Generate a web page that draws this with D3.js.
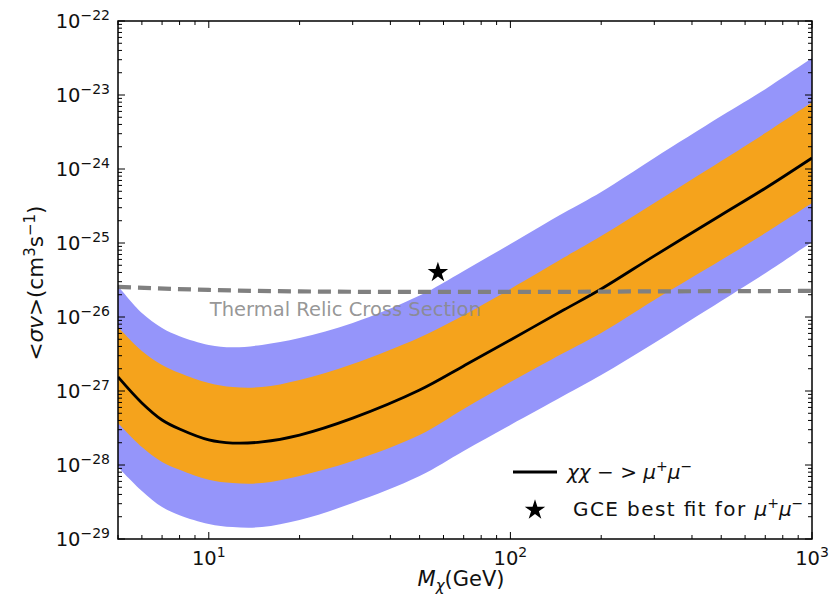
<!DOCTYPE html>
<html>
<head>
<meta charset="utf-8">
<script src="https://cdn.jsdelivr.net/npm/d3@7"></script>
<style>
  html, body { margin: 0; padding: 0; background: #fff; }
  svg text { font-family: "DejaVu Sans", sans-serif; }
</style>
</head>
<body>
<svg id="chart" width="832" height="602"></svg>
<script>
// Dark-matter mass grid (GeV)
const masses = [5, 6, 7, 8, 10, 12, 15, 20, 30, 50, 70, 100, 150, 200, 300, 500, 700, 1000];
// Expected limit on <sigma v> for chi chi -> mu+ mu- (cm^3 s^-1)
const central = [1.55e-27, 6.9e-28, 4.06e-28, 3.06e-28, 2.18e-28, 1.98e-28, 2.05e-28, 2.54e-28, 4.3e-28, 1.03e-27, 2.18e-27, 4.9e-27, 1.24e-26, 2.39e-26, 6.7e-26, 2.39e-25, 5.5e-25, 1.41e-24];
// 68% containment band
const upper68 = [7.3e-27, 3.47e-27, 2.25e-27, 1.75e-27, 1.28e-27, 1.13e-27, 1.13e-27, 1.41e-27, 2.32e-27, 5.3e-27, 1.06e-26, 2.39e-26, 6.3e-26, 1.24e-25, 3.47e-25, 1.28e-24, 3.06e-24, 8.0e-24];
const lower68 = [3.7e-28, 1.75e-28, 1.10e-28, 8.6e-29, 6.3e-29, 5.7e-29, 5.7e-29, 7.1e-29, 1.13e-28, 2.54e-28, 5.7e-28, 1.32e-27, 3.27e-27, 6.1e-27, 1.70e-26, 5.9e-26, 1.36e-25, 3.47e-25];
// 95% containment band
const upper95 = [2.62e-26, 1.13e-26, 7.1e-27, 5.5e-27, 4.2e-27, 3.9e-27, 4.2e-27, 5.2e-27, 8.3e-27, 1.95e-26, 4.2e-26, 9.7e-26, 2.54e-25, 4.9e-25, 1.41e-24, 5.2e-24, 1.2e-23, 3.16e-23];
const lower95 = [9.4e-29, 4.45e-29, 2.7e-29, 2.1e-29, 1.6e-29, 1.45e-29, 1.45e-29, 1.8e-29, 3.06e-29, 7.1e-29, 1.55e-28, 3.47e-28, 8.6e-28, 1.64e-27, 4.45e-27, 1.64e-26, 3.9e-26, 1.03e-25];
// Thermal relic cross section
const relicMass = [5, 10, 20, 50, 100, 300, 1000];
const relicSv = [2.55e-26, 2.32e-26, 2.22e-26, 2.18e-26, 2.18e-26, 2.22e-26, 2.25e-26];
// Galactic Centre Excess best fit
const gceMass = [57.5];
const gceSv = [4.0e-26];
// Axis ticks
const xMajor = [10, 100, 1000];
const xMajorExp = ["1", "2", "3"];
const yMajor = [1e-29, 1e-28, 1e-27, 1e-26, 1e-25, 1e-24, 1e-23, 1e-22];
const yMajorExp = ["\u221229", "\u221228", "\u221227", "\u221226", "\u221225", "\u221224", "\u221223", "\u221222"];

const svg = d3.select("#chart");
const L = 118, R = 812, T = 21, B = 539;

const x = d3.scaleLog().domain([5, 1000]).range([L, R]);
const y = d3.scaleLog().domain([1e-29, 1e-22]).range([B, T]);

const colBlue = "#9595fa", colOrange = "#f5a31c";
const curve = d3.curveCatmullRom.alpha(0.5);

svg.append("defs").append("clipPath").attr("id", "plotclip")
  .append("rect").attr("x", L).attr("y", T).attr("width", R - L).attr("height", B - T);

const g = svg.append("g").attr("clip-path", "url(#plotclip)");

const band = (lo, hi) => d3.area()
  .x((d, i) => x(masses[i]))
  .y0((d, i) => y(lo[i]))
  .y1((d, i) => y(hi[i]))
  .curve(curve)(masses);

g.append("path").attr("d", band(lower95, upper95)).attr("fill", colBlue);
g.append("path").attr("d", band(lower68, upper68)).attr("fill", colOrange);

g.append("path")
  .attr("d", d3.line().x((d, i) => x(masses[i])).y((d, i) => y(central[i])).curve(curve)(masses))
  .attr("fill", "none").attr("stroke", "#000").attr("stroke-width", 2.8);

g.append("path")
  .attr("d", d3.line().x((d, i) => x(relicMass[i])).y((d, i) => y(relicSv[i])).curve(d3.curveMonotoneX)(relicMass))
  .attr("fill", "none").attr("stroke", "#808080").attr("stroke-width", 4.2)
  .attr("stroke-dasharray", "13,7");

// thermal relic label
svg.append("text").attr("x", x(10) + 1).attr("y", y(relicSv[1]) + 26)
  .attr("font-size", 19.5).attr("fill", "#8a8a8a").attr("fill-opacity", 0.9)
  .text("Thermal Relic Cross Section");

const star = d3.symbol().type(d3.symbolStar).size(130);
gceMass.forEach((m, i) => {
  svg.append("path").attr("d", star())
    .attr("transform", `translate(${x(m)},${y(gceSv[i])})`).attr("fill", "#000");
});

// frame
svg.append("rect").attr("x", L).attr("y", T).attr("width", R - L).attr("height", B - T)
  .attr("fill", "none").attr("stroke", "#000").attr("stroke-width", 1.5);

// ticks, pointing inward on all four sides
const ax = svg.append("g").attr("stroke", "#000").attr("stroke-width", 1);
const xMinor = [];
[1, 10, 100].forEach(dec => { for (let k = 2; k <= 9; k++) { const v = dec * k; if (v >= 5 && v < 1000 && v !== 10 && v !== 100) xMinor.push(v); } });
const yMinor = [];
for (let e = -29; e < -22; e++) for (let k = 2; k <= 9; k++) yMinor.push(k * Math.pow(10, e));

xMajor.forEach(v => {
  ax.append("line").attr("x1", x(v)).attr("x2", x(v)).attr("y1", B).attr("y2", B - 7);
  ax.append("line").attr("x1", x(v)).attr("x2", x(v)).attr("y1", T).attr("y2", T + 7);
});
xMinor.forEach(v => {
  ax.append("line").attr("x1", x(v)).attr("x2", x(v)).attr("y1", B).attr("y2", B - 4);
  ax.append("line").attr("x1", x(v)).attr("x2", x(v)).attr("y1", T).attr("y2", T + 4);
});
yMajor.forEach(v => {
  ax.append("line").attr("x1", L).attr("x2", L + 7).attr("y1", y(v)).attr("y2", y(v));
  ax.append("line").attr("x1", R).attr("x2", R - 7).attr("y1", y(v)).attr("y2", y(v));
});
yMinor.forEach(v => {
  ax.append("line").attr("x1", L).attr("x2", L + 4).attr("y1", y(v)).attr("y2", y(v));
  ax.append("line").attr("x1", R).attr("x2", R - 4).attr("y1", y(v)).attr("y2", y(v));
});

// tick labels
xMajor.forEach((v, i) => {
  const t = svg.append("text").attr("x", x(v)).attr("y", B + 26).attr("text-anchor", "middle")
    .attr("font-size", 19.5).attr("fill", "#111");
  t.append("tspan").text("10");
  t.append("tspan").attr("dy", -8).attr("font-size", 14).text(xMajorExp[i]);
});
yMajor.forEach((v, i) => {
  const t = svg.append("text").attr("x", 110).attr("y", y(v) + 7).attr("text-anchor", "end")
    .attr("font-size", 19.5).attr("fill", "#111");
  t.append("tspan").text("10");
  t.append("tspan").attr("dy", -8).attr("font-size", 14).text(yMajorExp[i]);
});

// axis titles
const xt = svg.append("text").attr("x", (L + R) / 2 - 4).attr("y", 586).attr("text-anchor", "middle")
  .attr("font-size", 21).attr("fill", "#111");
xt.append("tspan").attr("font-style", "italic").text("M");
xt.append("tspan").attr("font-style", "italic").attr("font-size", 15).attr("dy", 5).text("\u03c7");
xt.append("tspan").attr("dy", -5).text("(GeV)");

const yt = svg.append("text").attr("transform", `translate(43,${(T + B) / 2 + 3}) rotate(-90)`)
  .attr("text-anchor", "middle").attr("font-size", 21.5).attr("fill", "#111");
yt.append("tspan").text("<");
yt.append("tspan").attr("font-style", "italic").text("\u03c3v");
yt.append("tspan").text(">(cm");
yt.append("tspan").attr("font-size", 15).attr("dy", -8).text("3");
yt.append("tspan").attr("dy", 8).text("s");
yt.append("tspan").attr("font-size", 15).attr("dy", -8).text("\u22121");
yt.append("tspan").attr("dy", 8).text(")");

// legend
const lg = svg.append("g");
lg.append("line").attr("x1", 513).attr("x2", 557).attr("y1", 472).attr("y2", 472)
  .attr("stroke", "#000").attr("stroke-width", 2.8);
const l1 = lg.append("text").attr("x", 567).attr("y", 479).attr("font-size", 20).attr("fill", "#111");
l1.append("tspan").attr("font-style", "italic").text("\u03c7\u03c7");
l1.append("tspan").text(" \u2212 > ");
l1.append("tspan").attr("font-style", "italic").text("\u03bc");
l1.append("tspan").attr("font-size", 14).attr("dy", -8).text("+");
l1.append("tspan").attr("font-style", "italic").attr("dy", 8).text("\u03bc");
l1.append("tspan").attr("font-size", 14).attr("dy", -8).text("\u2212");

lg.append("path").attr("d", star()).attr("transform", "translate(535,510)").attr("fill", "#000");
const l2 = lg.append("text").attr("x", 573).attr("y", 516).attr("font-size", 20).attr("fill", "#111");
l2.append("tspan").attr("textLength", 180).attr("lengthAdjust", "spacing").text("GCE best fit for ");
l2.append("tspan").attr("font-style", "italic").text("\u03bc");
l2.append("tspan").attr("font-size", 14).attr("dy", -8).text("+");
l2.append("tspan").attr("font-style", "italic").attr("dy", 8).text("\u03bc");
l2.append("tspan").attr("font-size", 14).attr("dy", -8).text("\u2212");
</script>
</body>
</html>
